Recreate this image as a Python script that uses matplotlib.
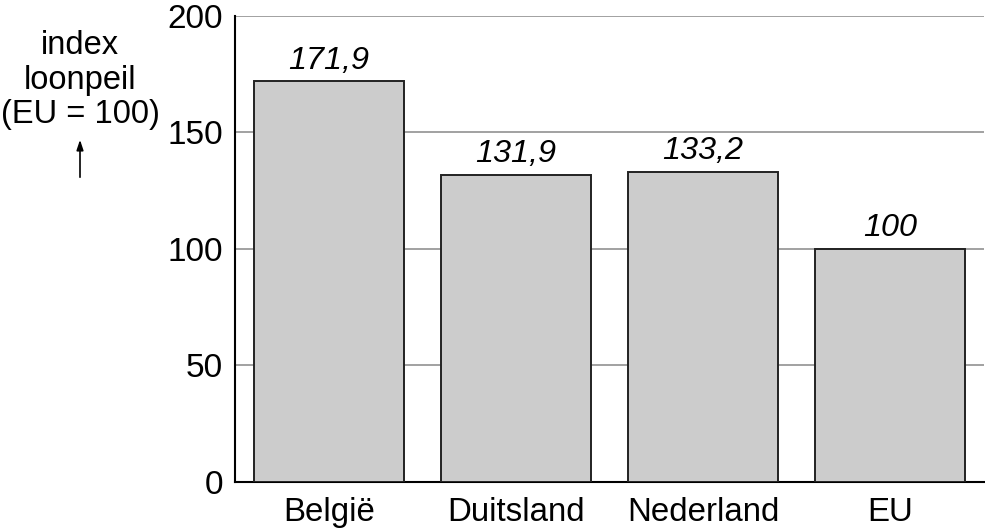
import matplotlib
matplotlib.use("Agg")
import matplotlib.pyplot as plt
import numpy as np

# data
landen = ['België', 'Duitsland', 'Nederland', 'EU']
loonpeil = [171.9, 131.9, 133.2, 100]
labels = ['171,9', '131,9', '133,2', '100']
yticks = [0, 50, 100, 150, 200]

plt.rcParams['font.family'] = ['Liberation Sans', 'DejaVu Sans']

fig = plt.figure(figsize=(9.85, 5.32), dpi=100)
ax = fig.add_axes([0.239, 0.094, 0.7595, 0.876])

x = np.arange(len(landen))
ax.bar(x, loonpeil, width=0.8, color='#cccccc', edgecolor='#222222', linewidth=1.4, zorder=3)

for xi, val, lab in zip(x, loonpeil, labels):
    ax.annotate(lab, (xi, val), xytext=(0, 4), textcoords='offset points',
                ha='center', va='bottom', fontsize=23.3, style='italic')

ax.set_xlim(-0.5, 3.5)
ax.set_ylim(0, 200)
ax.set_yticks(yticks)
ax.set_xticks(x)
ax.set_xticklabels(landen, fontsize=23.8)
ax.tick_params(axis='y', labelsize=24, length=0, pad=9)
ax.tick_params(axis='x', length=0, pad=11)
ax.yaxis.grid(True, color='#888888', linewidth=1.1, zorder=0)
ax.spines['top'].set_visible(False)
ax.spines['right'].set_visible(False)
ax.spines['left'].set_linewidth(1.5)
ax.spines['bottom'].set_linewidth(1.5)

# y-axis title on the left with arrow
fig.text(80 / 985, 1 - 45 / 532, 'index', ha='center', va='center', fontsize=23.5)
fig.text(80 / 985, 1 - 80 / 532, 'loonpeil', ha='center', va='center', fontsize=23.5)
fig.text(80 / 985, 1 - 115 / 532, '(EU = 100)', ha='center', va='center', fontsize=23.5)
fig.add_artist(matplotlib.patches.FancyArrowPatch(
    (80 / 985, 1 - 180 / 532), (80 / 985, 1 - 137 / 532), transform=fig.transFigure,
    arrowstyle='-|>,head_length=6,head_width=2', color='black', linewidth=1.2))

fig.savefig('out.png', dpi=100)
